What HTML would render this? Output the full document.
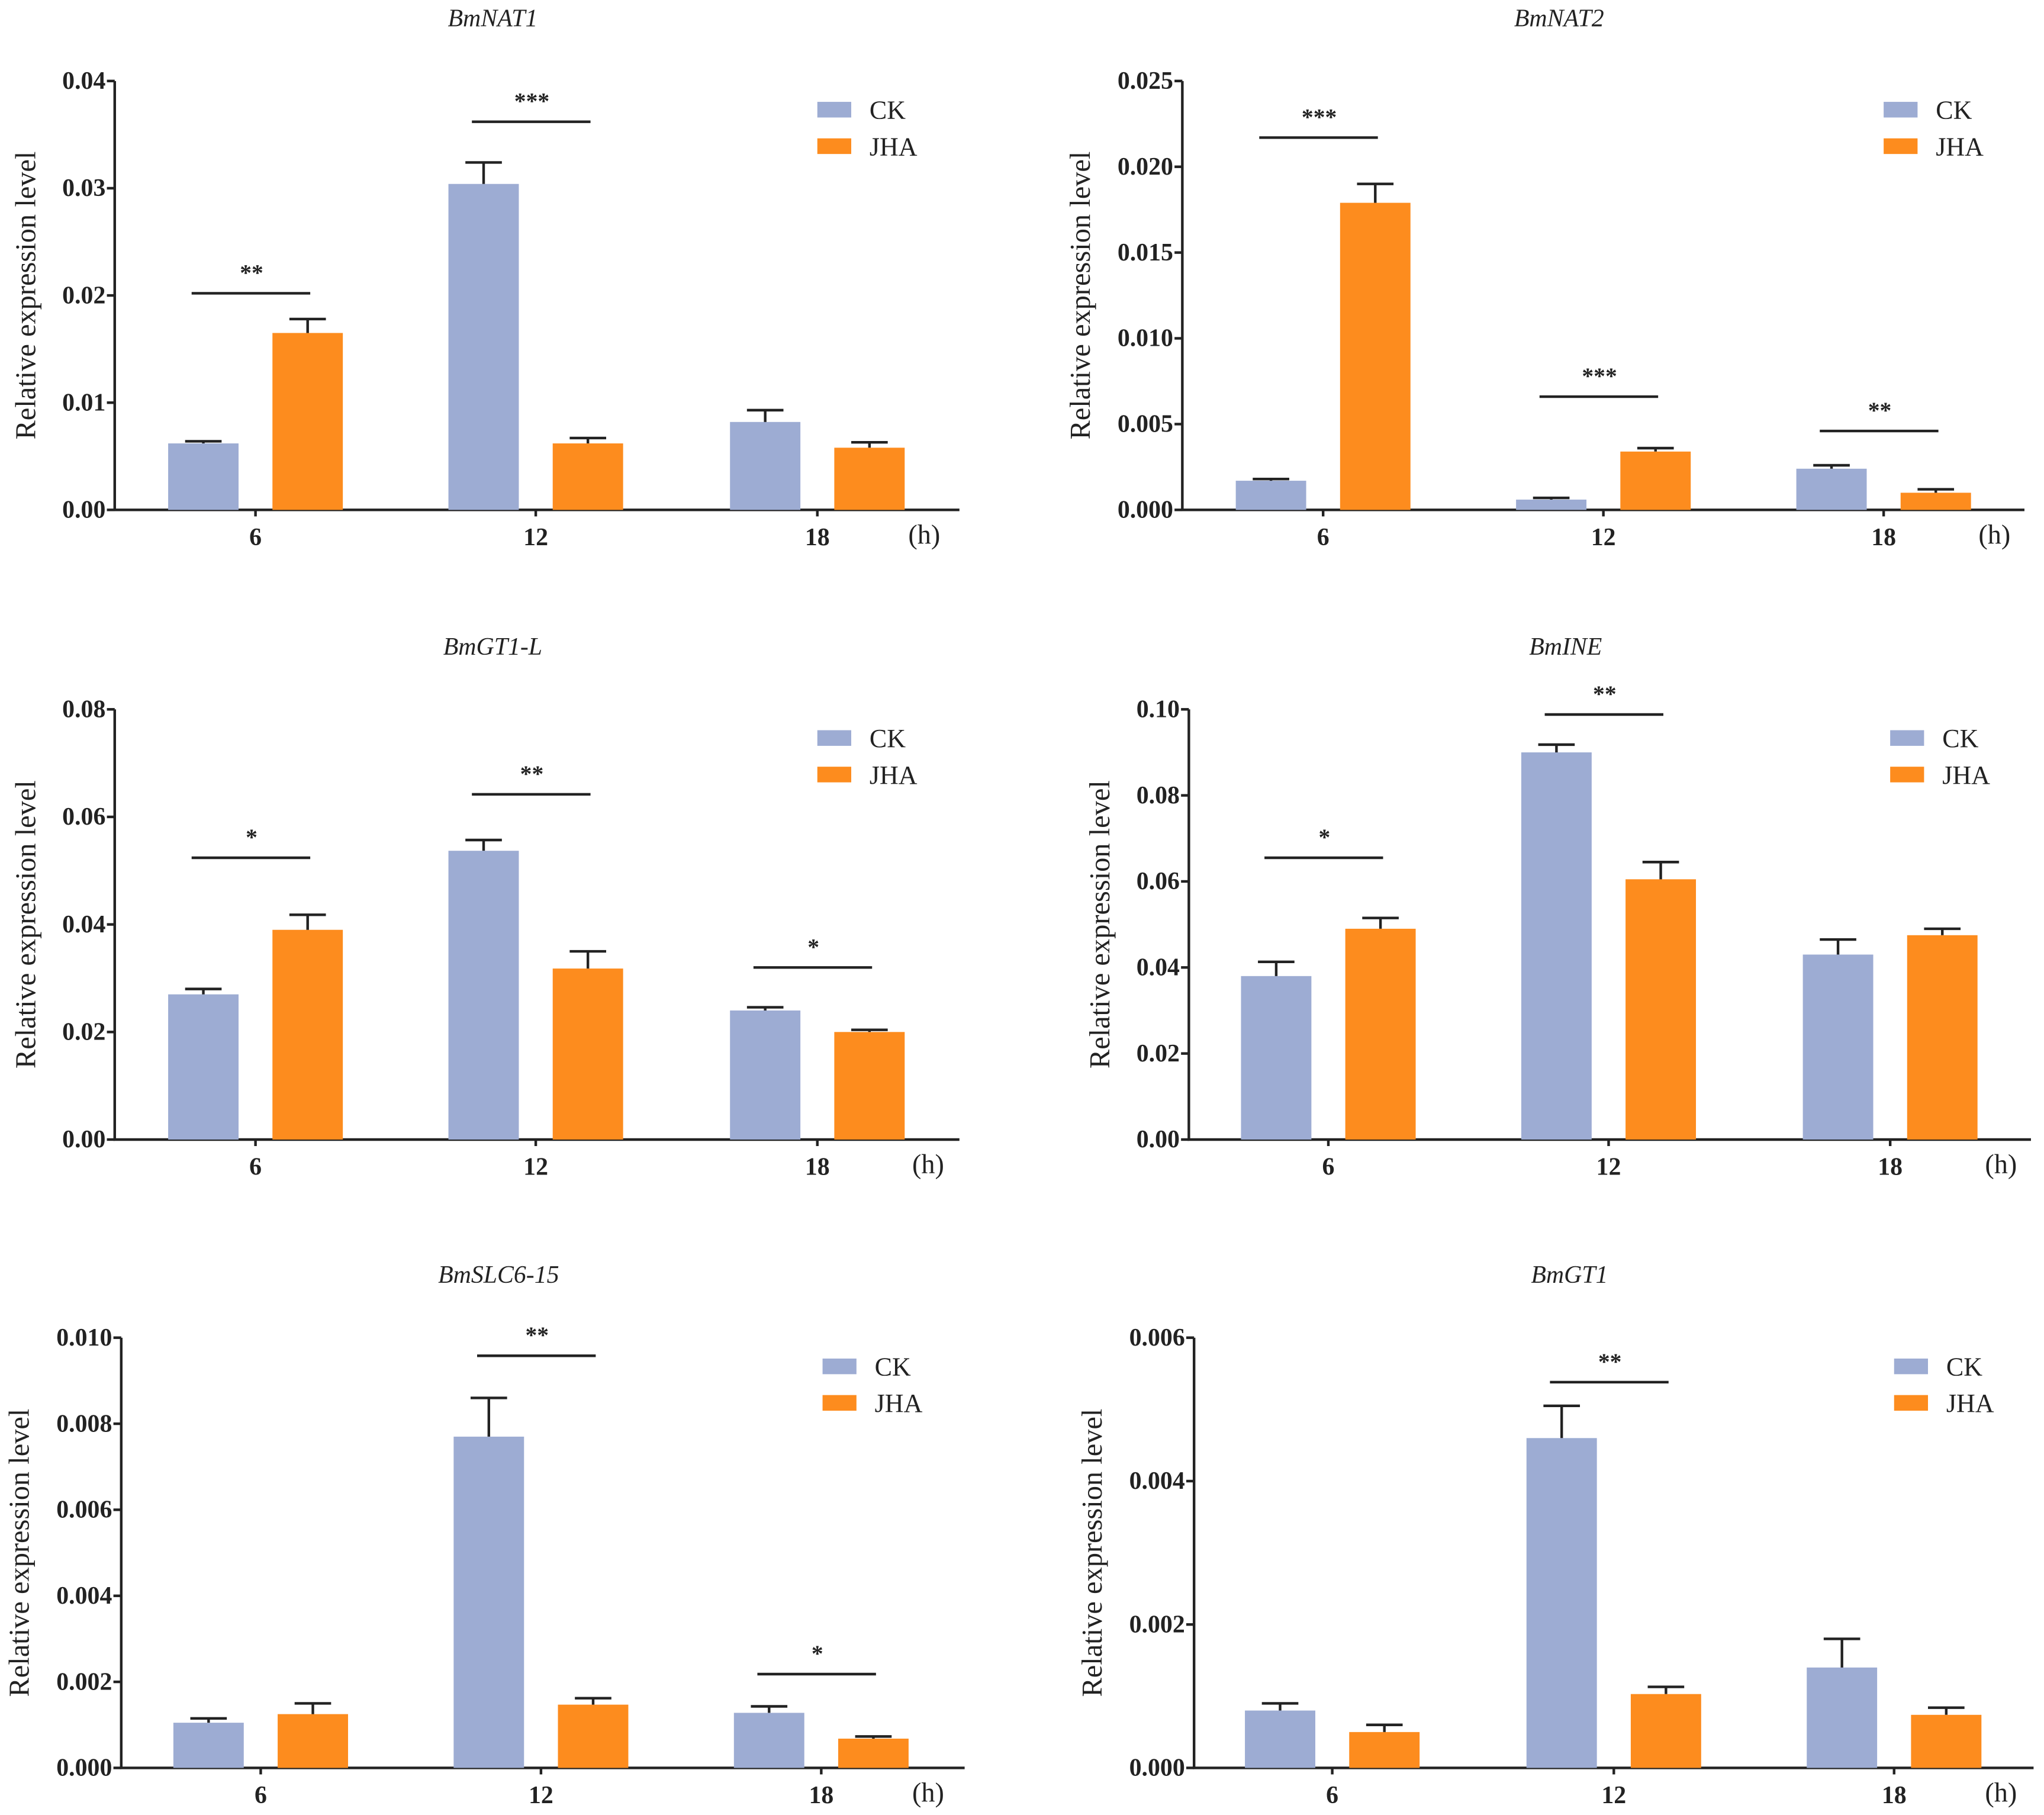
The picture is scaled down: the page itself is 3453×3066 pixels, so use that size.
<!DOCTYPE html>
<html><head><meta charset="utf-8"><style>
html,body{margin:0;padding:0;background:#fff;}
svg{display:block;}
text{font-family:"Liberation Serif","Times New Roman",serif;fill:#222;}
</style></head><body>
<svg id="fig" width="3453" height="3066" viewBox="0 0 1568 1392" xmlns="http://www.w3.org/2000/svg"></svg>
<script>
const categories = ["6","12","18"];
const nat1Ck = [0.0062,0.0304,0.0082], nat1CkErr=[0.0002,0.002,0.0011];
const nat1Jha = [0.0165,0.0062,0.0058], nat1JhaErr=[0.0013,0.0005,0.0005];
const nat1Ticks = ["0.00","0.01","0.02","0.03","0.04"];
const nat1Sig = [["**",0.0202],["***",0.0362],null];
const nat2Ck = [0.0017,0.0006,0.0024], nat2CkErr=[0.0001,0.0001,0.0002];
const nat2Jha = [0.0179,0.0034,0.0010], nat2JhaErr=[0.0011,0.0002,0.0002];
const nat2Ticks = ["0.000","0.005","0.010","0.015","0.020","0.025"];
const nat2Sig = [["***",0.0217],["***",0.0066],["**",0.0046]];
const gt1lCk = [0.027,0.0537,0.024], gt1lCkErr=[0.001,0.002,0.0006];
const gt1lJha = [0.039,0.0318,0.020], gt1lJhaErr=[0.0028,0.0032,0.0004];
const gt1lTicks = ["0.00","0.02","0.04","0.06","0.08"];
const gt1lSig = [["*",0.0524],["**",0.0642],["*",0.032]];
const ineCk = [0.038,0.090,0.043], ineCkErr=[0.0033,0.0018,0.0035];
const ineJha = [0.049,0.0605,0.0475], ineJhaErr=[0.0025,0.004,0.0015];
const ineTicks = ["0.00","0.02","0.04","0.06","0.08","0.10"];
const ineSig = [["*",0.0655],["**",0.0988],null];
const slcCk = [0.00105,0.0077,0.00128], slcCkErr=[0.0001,0.0009,0.00015];
const slcJha = [0.00125,0.00147,0.00068], slcJhaErr=[0.00025,0.00015,0.00005];
const slcTicks = ["0.000","0.002","0.004","0.006","0.008","0.010"];
const slcSig = [null,["**",0.00958],["*",0.00218]];
const gt1Ck = [0.0008,0.0046,0.0014], gt1CkErr=[0.0001,0.00045,0.0004];
const gt1Jha = [0.0005,0.00103,0.00074], gt1JhaErr=[0.0001,0.0001,0.0001];
const gt1Ticks = ["0.000","0.002","0.004","0.006"];
const gt1Sig = [null,["**",0.00538],null];

const panels = [
 {name:"bmnat1",title:"BmNAT1",x0:88,x1:736,y0:391,y1:62,cats:[196,411,627],ck:nat1Ck,ckE:nat1CkErr,jha:nat1Jha,jhaE:nat1JhaErr,ticks:nat1Ticks,sig:nat1Sig,leg:627,yl:20,h:709},
 {name:"bmnat2",title:"BmNAT2",x0:907,x1:1553,y0:391,y1:62,cats:[1015,1230,1445],ck:nat2Ck,ckE:nat2CkErr,jha:nat2Jha,jhaE:nat2JhaErr,ticks:nat2Ticks,sig:nat2Sig,leg:1445,yl:829,h:1530},
 {name:"bmgt1-l",title:"BmGT1-L",x0:88,x1:736,y0:874,y1:544,cats:[196,411,627],ck:gt1lCk,ckE:gt1lCkErr,jha:gt1lJha,jhaE:gt1lJhaErr,ticks:gt1lTicks,sig:gt1lSig,leg:627,yl:20,h:712},
 {name:"bmine",title:"BmINE",x0:912,x1:1558,y0:874,y1:544,cats:[1019,1234,1450],ck:ineCk,ckE:ineCkErr,jha:ineJha,jhaE:ineJhaErr,ticks:ineTicks,sig:ineSig,leg:1450,yl:844,h:1535},
 {name:"bmslc6-15",title:"BmSLC6-15",x0:93,x1:740,y0:1356,y1:1026,cats:[200,415,630],ck:slcCk,ckE:slcCkErr,jha:slcJha,jhaE:slcJhaErr,ticks:slcTicks,sig:slcSig,leg:631,yl:15,h:712},
 {name:"bmgt1",title:"BmGT1",x0:916,x1:1560,y0:1356,y1:1026,cats:[1022,1238,1453],ck:gt1Ck,ckE:gt1CkErr,jha:gt1Jha,jhaE:gt1JhaErr,ticks:gt1Ticks,sig:gt1Sig,leg:1453,yl:838,h:1535}
];
const NS="http://www.w3.org/2000/svg";
const svg=document.getElementById("fig");
function mk(tag,attrs,parent,txt){const e=document.createElementNS(NS,tag);for(const k in attrs)e.setAttribute(k,attrs[k]);if(txt!==undefined)e.textContent=txt;parent.appendChild(e);return e;}
panels.forEach(p=>{
 const g=mk("g",{},svg);
 
 
 const max=parseFloat(p.ticks[p.ticks.length-1]);
 const yS=v=>p.y0-(v/max)*(p.y0-p.y1);
 const t=mk("text",{x:(p.x0+p.x1)/2-34,y:20,"text-anchor":"middle","font-size":19,"font-style":"italic"},g,p.title);
 t.setAttribute('y', p.y1-42);
 
 
 const yl=mk("text",{x:0,y:0,"text-anchor":"middle","font-size":22,transform:`translate(${p.yl+7},${(p.y0+p.y1)/2}) rotate(-90)`},g,"Relative expression level");
 
 
 const ax=mk("path",{d:`M${p.x0},${p.y1}V${p.y0}H${p.x1}`,stroke:"#222","stroke-width":2,fill:"none"},g);
 
 
 p.ticks.forEach((lab,i)=>{
  const v=parseFloat(lab),y=yS(v);
  const tk=mk("line",{x1:p.x0-6,x2:p.x0,y1:y,y2:y,stroke:"#222","stroke-width":2},g);
  
  
  const tl=mk("text",{x:p.x0-7,y:y+6,"text-anchor":"end","font-size":19,"font-weight":"bold"},g,lab);
  
  
 });
 categories.forEach((c,i)=>{
  const cx=p.cats[i];
  const xt=mk("line",{x1:cx,x2:cx,y1:p.y0,y2:p.y0+5,stroke:"#222","stroke-width":2},g);
  
  
  const xl=mk("text",{x:cx,y:p.y0+27,"text-anchor":"middle","font-size":19,"font-weight":"bold"},g,c);
  
  
  [[p.ck[i],p.ckE[i],-40,"#9dacd3","ck"],[p.jha[i],p.jhaE[i],40,"#fd8c1e","jha"]].forEach(([v,e,off,col,nm])=>{
   const bx=cx+off,yt=yS(v),ye=yS(v+e);
   const r=mk("rect",{x:bx-27,y:yt,width:54,height:p.y0-yt,fill:col},g);
   
   
   const eb=mk("path",{d:`M${bx},${yt}V${ye}M${bx-14},${ye}H${bx+14}`,stroke:"#222","stroke-width":2,fill:"none"},g);
   
   
  });
  const s=p.sig[i];
  if(s){
   const y=yS(s[1]);
   const sl=mk("line",{x1:cx-49,x2:cx+42,y1:y,y2:y,stroke:"#222","stroke-width":2},g);
   
   
   const st=mk("text",{x:cx-3,y:y-10,"text-anchor":"middle","font-size":18,"font-weight":"bold"},g,s[0]);
   
   
  }
 });
 const hl=mk("text",{x:p.h,y:p.y0+26,"text-anchor":"middle","font-size":21},g,"(h)");
 
 
 [["CK","#9dacd3",0],["JHA","#fd8c1e",28]].forEach(([lab,col,dy])=>{
  const ly=p.y1+16+dy;
  const lr=mk("rect",{x:p.leg,y:ly,width:26,height:12,fill:col},g);
  
  
  const lt=mk("text",{x:p.leg+40,y:ly+13,"font-size":20},g,lab);
  
  
 });
});
</script>
</body></html>
